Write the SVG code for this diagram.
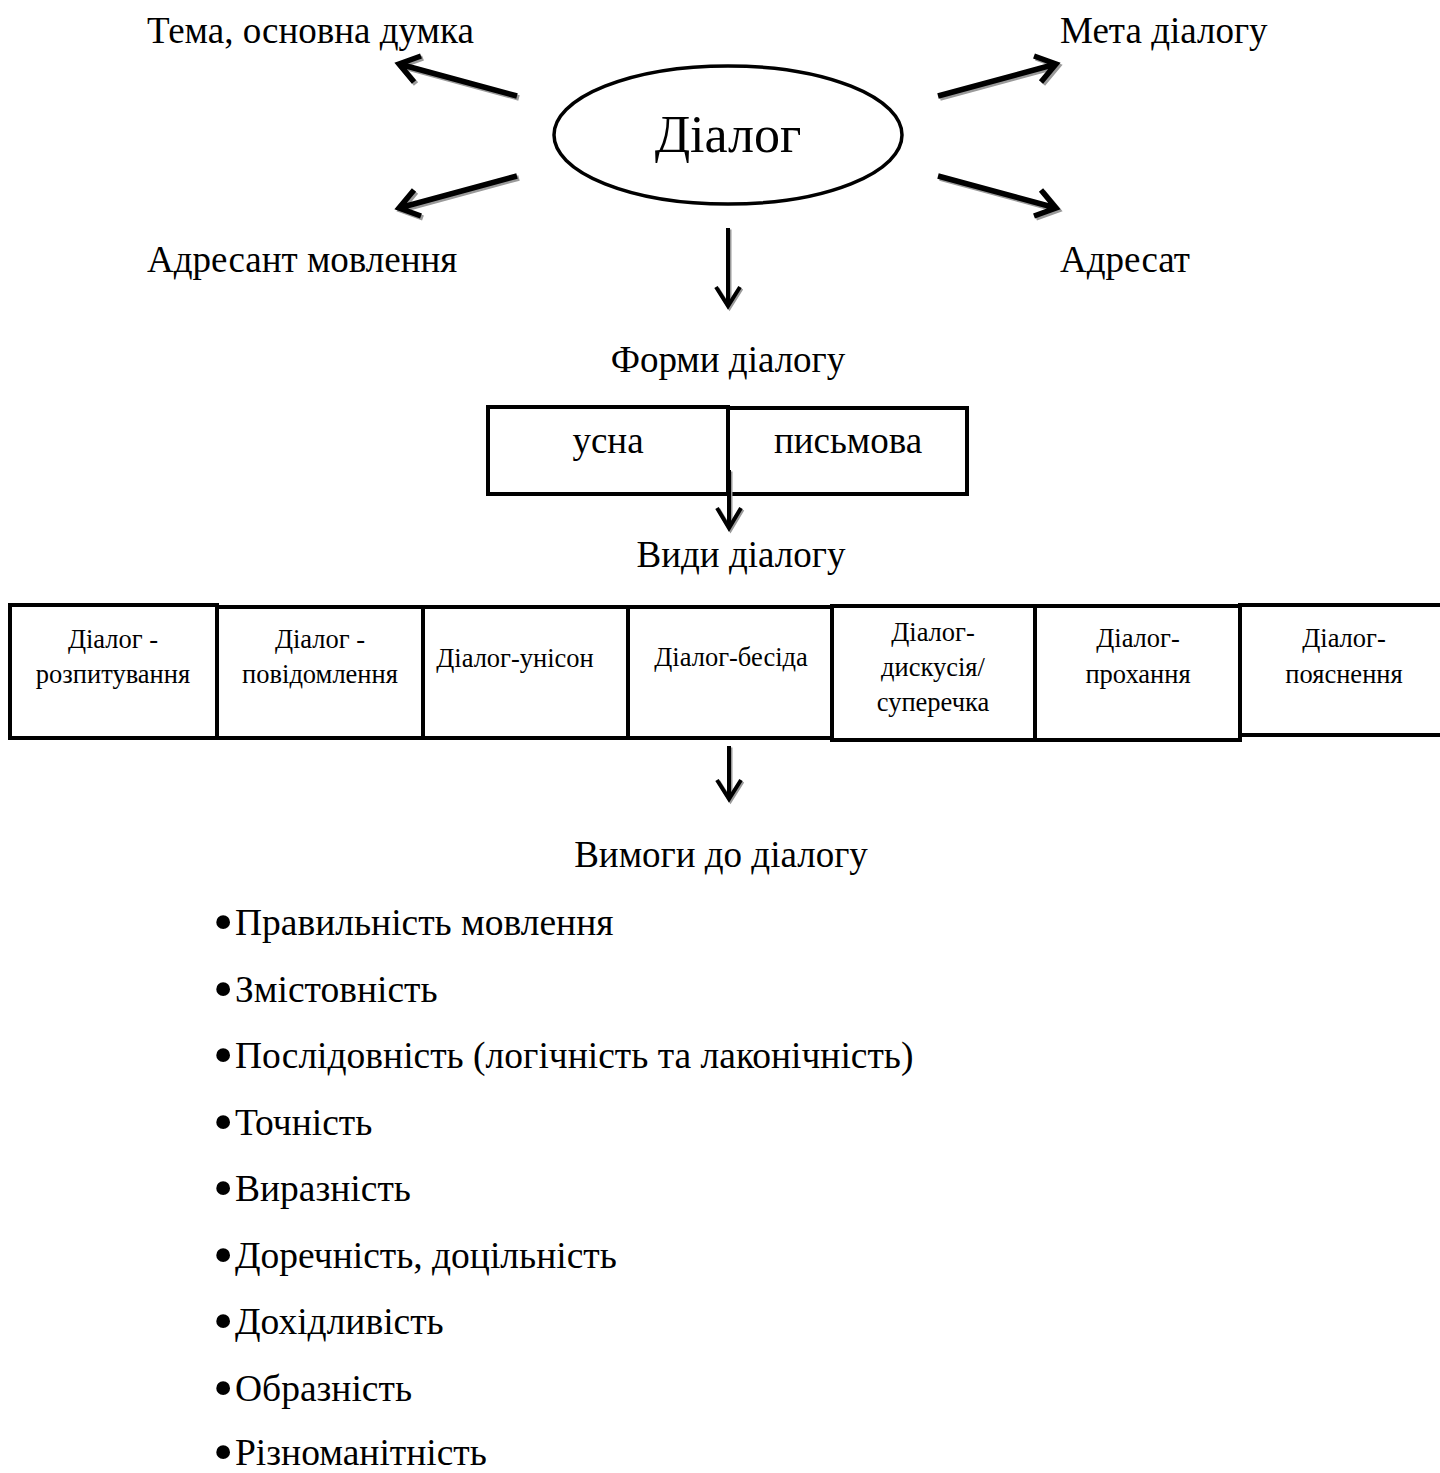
<svg xmlns="http://www.w3.org/2000/svg" xmlns:xlink="http://www.w3.org/1999/xlink" width="1440" height="1473" viewBox="0 0 1440 1473">
<style>
text{font-family:"Liberation Serif","Times New Roman",serif;fill:#000}
.lbl{font-size:37px}
.ttl{font-size:52px;text-anchor:middle}
.mid{text-anchor:middle}
.box{fill:#fff;stroke:#000;stroke-width:4}
.bt{font-size:26.5px;text-anchor:middle}
.li{font-size:37.5px}
.bul{font-size:58px}
.arr{fill:none;stroke-linecap:butt;stroke-linejoin:miter}
.thick{stroke-width:5.5}
.thin{stroke-width:4}
.sh{stroke:#9a9a9a}
.fg{stroke:#000}
</style>
<defs>
<path id="a1" d="M517,96 L399,64 M421,56 L399,64 L414,82"/>
<path id="a2" d="M517,176 L399,208 M414,190 L399,208 L421,216"/>
<path id="a3" d="M938,96 L1056,64 M1034,56 L1056,64 L1041,82"/>
<path id="a4" d="M938,176 L1056,208 M1041,190 L1056,208 L1034,216"/>
<path id="v1" d="M728,228 L728,306 M716,287 L728,306 L740,287"/>
<path id="v2" d="M729,470 L729,528 M717,508 L729,528 L741,508"/>
<path id="v3" d="M729,746 L729,799 M717,780 L729,799 L741,780"/>
</defs>
<rect width="1440" height="1473" fill="#fff"/>

<g id="dialog">
<ellipse cx="728" cy="135" rx="174" ry="69" fill="#fff" stroke="#000" stroke-width="3.5"/>
<text class="ttl" x="728" y="152">Діалог</text>
</g>
<g id="tema"><text class="lbl" x="147" y="43">Тема, основна думка</text></g>
<g id="meta"><text class="lbl" x="1060" y="43">Мета діалогу</text></g>
<g id="adresant"><text class="lbl" x="147" y="272">Адресант мовлення</text></g>
<g id="adresat"><text class="lbl" x="1060" y="272">Адресат</text></g>
<g id="formy"><text class="lbl mid" x="728" y="372">Форми діалогу</text></g>
<g id="usna">
<rect class="box" x="488" y="407" width="240" height="87"/>
<text class="lbl mid" x="608" y="453">усна</text>
</g>
<g id="pysmova">
<rect class="box" x="728" y="408" width="239" height="86"/>
<text class="lbl mid" x="848" y="453">письмова</text>
</g>
<g id="vydy"><text class="lbl mid" x="741" y="567">Види діалогу</text></g>

<g id="t1"><rect class="box" x="10" y="605" width="207" height="133"/>
<text class="bt" x="113" y="648">Діалог -</text><text class="bt" x="113" y="683">розпитування</text></g>
<g id="t2"><rect class="box" x="217" y="607" width="206" height="131"/>
<text class="bt" x="320" y="648">Діалог -</text><text class="bt" x="320" y="683">повідомлення</text></g>
<g id="t3"><rect class="box" x="423" y="607" width="205" height="131"/>
<text class="bt" x="515" y="667">Діалог-унісон</text></g>
<g id="t4"><rect class="box" x="628" y="607" width="204" height="131"/>
<text class="bt" x="731" y="666">Діалог-бесіда</text></g>
<g id="t5"><rect class="box" x="832" y="606" width="203" height="134"/>
<text class="bt" x="933" y="641">Діалог-</text><text class="bt" x="933" y="676">дискусія/</text><text class="bt" x="933" y="711">суперечка</text></g>
<g id="t6"><rect class="box" x="1035" y="606" width="205" height="134"/>
<text class="bt" x="1138" y="647">Діалог-</text><text class="bt" x="1138" y="683">прохання</text></g>
<g id="t7"><rect class="box" x="1240" y="605" width="204" height="130"/>
<text class="bt" x="1344" y="647">Діалог-</text><text class="bt" x="1344" y="683">пояснення</text></g>

<g id="vymogy"><text class="lbl mid" x="721" y="867">Вимоги до діалогу</text></g>
<g id="list">
<text class="bul" x="213" y="941">•</text><text class="li" x="235" y="935">Правильність мовлення</text>
<text class="bul" x="213" y="1007.5">•</text><text class="li" x="235" y="1001.5">Змістовність</text>
<text class="bul" x="213" y="1074">•</text><text class="li" x="235" y="1068">Послідовність (логічність та лаконічність)</text>
<text class="bul" x="213" y="1140.5">•</text><text class="li" x="235" y="1134.5">Точність</text>
<text class="bul" x="213" y="1207">•</text><text class="li" x="235" y="1201">Виразність</text>
<text class="bul" x="213" y="1273.5">•</text><text class="li" x="235" y="1267.5">Доречність, доцільність</text>
<text class="bul" x="213" y="1340">•</text><text class="li" x="235" y="1334">Дохідливість</text>
<text class="bul" x="213" y="1406.5">•</text><text class="li" x="235" y="1400.5">Образність</text>
<text class="bul" x="213" y="1471">•</text><text class="li" x="235" y="1465">Різноманітність</text>
</g>

<g id="connectors">
<g class="arr thick sh" transform="translate(2,2)"><use xlink:href="#a1"/><use xlink:href="#a2"/><use xlink:href="#a3"/><use xlink:href="#a4"/></g>
<g class="arr thick fg"><use xlink:href="#a1"/><use xlink:href="#a2"/><use xlink:href="#a3"/><use xlink:href="#a4"/></g>
<g class="arr thin sh" transform="translate(1.5,1.5)"><use xlink:href="#v1"/><use xlink:href="#v2"/><use xlink:href="#v3"/></g>
<g class="arr thin fg"><use xlink:href="#v1"/><use xlink:href="#v2"/><use xlink:href="#v3"/></g>
</g>
</svg>
